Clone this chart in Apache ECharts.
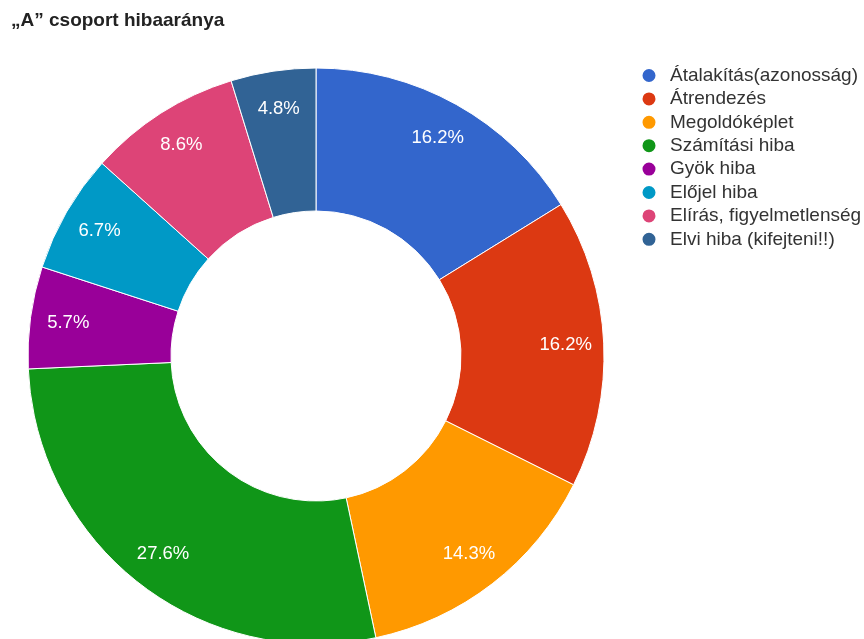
<!DOCTYPE html>
<html><head><meta charset="utf-8">
<script src="https://cdn.jsdelivr.net/npm/echarts@6/dist/echarts.min.js"></script>
<style>html,body{margin:0;padding:0;background:#fff}#c{width:864px;height:639px}</style>
</head><body><div id="c"></div>
<script>
const titleText = '„A” csoport hibaaránya';
const categories = ['Átalakítás(azonosság)','Átrendezés','Megoldóképlet','Számítási hiba','Gyök hiba','Előjel hiba','Elírás, figyelmetlenség','Elvi hiba (kifejteni!!)'];
const counts = [17,17,15,29,6,7,9,5];
const colors = ['#3366cc','#dc3912','#ff9900','#109618','#990099','#0099c6','#dd4477','#316395'];
const FONT = '"Liberation Sans", Arial, sans-serif';

const chart = echarts.init(document.getElementById('c'), null, {renderer:'canvas'});
const data = categories.map((n,i)=>({name:n, value:counts[i], itemStyle:{color:colors[i]}}));
const total = counts.reduce((a,b)=>a+b,0);
chart.setOption({
  animation:false,
  title:{text:titleText, left:11, top:11, padding:0,
    textStyle:{fontFamily:FONT, fontSize:19, fontWeight:'bold', color:'#222'}},
  legend:{orient:'vertical', left:640.5, top:66, padding:0, itemWidth:15, itemHeight:15, itemGap:4.4,
    icon:'circle', selectedMode:false,
    data: categories.map((n,i)=>({name:n, itemStyle:{color:colors[i]}})),
    textStyle:{fontFamily:FONT, fontSize:19, color:'#333', lineHeight:19, padding:[0,0,0,8.5]}},
  series:[
    {type:'pie', center:[316,356], radius:[145,288], startAngle:90, clockwise:true,
     avoidLabelOverlap:false, silent:true,
     itemStyle:{borderColor:'#fff', borderWidth:1},
     label:{show:false}, labelLine:{show:false},
     data:data},
    {type:'pie', center:[316,356], radius:[206,288], startAngle:90, clockwise:true,
     avoidLabelOverlap:false, silent:true,
     itemStyle:{color:'rgba(0,0,0,0)', borderWidth:0},
     label:{show:true, position:'inside', color:'#fff', fontFamily:FONT, fontSize:18.5,
       formatter:p=>(p.value/total*100).toFixed(1)+'%'},
     labelLine:{show:false},
     data:categories.map((n,i)=>({name:n, value:counts[i]}))}
  ]
});
</script></body></html>
